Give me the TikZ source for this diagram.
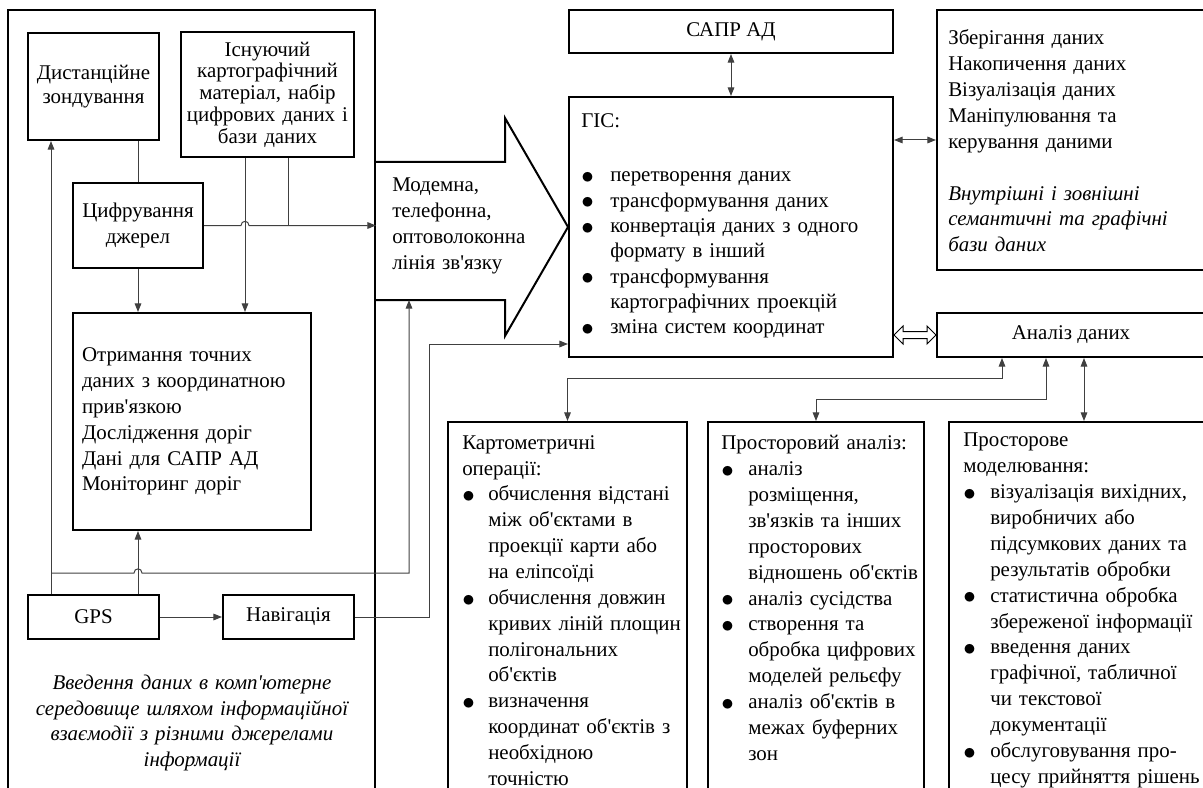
\documentclass[tikz,border=0pt]{standalone}
\usepackage{fontspec}
\setmainfont{Liberation Serif}[Ligatures=TeXOff]
\usetikzlibrary{arrows.meta,calc}
\definecolor{cg}{RGB}{64,64,64}
\newlength\bind
\newlength\boff
\newcommand\bul[1]{\par\noindent\hangindent=\bind\hangafter=1\makebox[\bind][l]{\hspace*{\boff}\raisebox{-1.3pt}{\scalebox{1.3}{$\bullet$}}}#1\par}
\newcommand\fs{\fontsize{15.7}{19.4}\selectfont}
\begin{document}
\begin{tikzpicture}[x=0.75pt,y=-0.75pt,
  box/.style 2 args={draw=black, line width=1.5pt, minimum width=#1*0.75pt, minimum height=#2*0.75pt, inner sep=0pt, font=\fs},
  ctext/.style={align=center, text width=#1*0.75pt},
  ltext/.style={align=left, text width=#1*0.75pt, inner sep=0pt, anchor=west, font=\fs},
  conn/.style={draw=cg, line width=0.75pt},
  mytip/.tip={Triangle[length=6.5pt,width=5pt]},
  arr/.style={conn, -mytip},
  darr/.style={conn, mytip-mytip},
]
\useasboundingbox (0,0) rectangle (1203,788);
\clip (0,0) rectangle (1203,788);

% boxes
\node[box={367}{800}] (panel) at (191.5,410) {};
\node[box={131}{107}, ctext=125, font=\fontsize{15.7}{18.3}\selectfont] (dist) at (93.5,86.5) {Дистанційне\\зондування};
\node[box={173}{125}, ctext=170, font=\fontsize{15.7}{16.3}\selectfont] (isn) at (267.5,94.5) {Існуючий\\картографічний\\матеріал, набір\\цифрових даних і\\бази даних};
\node[box={130}{85}, ctext=126] (cifr) at (138,225.5) {Цифрування\\джерел};
\node[box={238}{217}, align=left, text width=165pt, inner xsep=6.75pt] (otr) at (192,421.5) {Отримання точних\\даних з координатною\\прив'язкою\\Дослідження доріг\\Дані для САПР АД\\Моніторинг доріг};
\node[box={131}{44}] (gps) at (93.5,617) {GPS};
\node[box={131}{44}] (nav) at (288.5,617) {Навігація};

\node[box={324}{43}] (sapr) at (731,31.5) {САПР АД};
\node[box={324}{260}] (gis) at (731,227) {};
\node[box={268}{260}] (zber) at (1071,140) {};
\node[box={268}{44}] (anal) at (1071,335) {Аналіз даних};
\node[box={239}{390}] (kart) at (567.5,617) {};
\node[box={216}{390}] (prost) at (816,617) {};
\node[box={270}{390}] (model) at (1084,617) {};

% big arrow
\coordinate (a1) at (375,162);
\coordinate (a2) at (505,162);
\coordinate (a3) at (505,118);
\coordinate (a5) at (505,336);
\coordinate (a6) at (505,300);
\coordinate (a7) at (375,300);
\draw[line width=1.5pt] (a1) -- (a2) -- (a3) -- (gis.west) -- (a5) -- (a6) -- (a7);

% texts
\node[ltext=300] (modemt) at (392,226) {Модемна,\\телефонна,\\оптоволоконна\\лінія зв'язку};
\node[ltext=300, font=\fontsize{15.7}{19}\selectfont] (gist) at (581,226) {\setlength\bind{21.75pt}\setlength\boff{0pt}ГІС:\par\vspace{21.5pt}\bul{перетворення даних}\bul{трансформування даних}\bul{конвертація даних з одного\newline формату в інший}\bul{трансформування\newline картографічних проекцій}\bul{зміна систем координат}};
\node[ltext=300] (zbert) at (948,141) {Зберігання даних\\Накопичення даних\\Візуалізація даних\\Маніпулювання та\\керування даними\\[19.4pt]\textit{Внутрішні і зовнішні}\\\textit{семантичні та графічні}\\\textit{бази даних}};
\node[align=center, text width=270pt, inner sep=0pt, font=\fs\itshape] (capt) at (192,723) {Введення даних в комп'ютерне\\середовище шляхом інформаційної\\взаємодії з різними джерелами\\інформації};
\node[ltext=300] (kartt) at (462,610.5) {\setlength\bind{19.5pt}\setlength\boff{0pt}Картометричні\\операції:\bul{обчислення відстані\newline між об'єктами в\newline проекції карти або\newline на еліпсоїді}\bul{обчислення довжин\newline кривих ліній площин\newline полігональних\newline об'єктів}\bul{визначення\newline координат об'єктів з\newline необхідною\newline точністю}};
\node[ltext=300] (prostt) at (721,598) {\setlength\bind{20.25pt}\setlength\boff{0pt}Просторовий аналіз:\bul{аналіз\newline розміщення,\newline зв'язків та інших\newline просторових\newline відношень об'єктів}\bul{аналіз сусідства}\bul{створення та\newline обробка цифрових\newline моделей рельєфу}\bul{аналіз об'єктів в\newline межах буферних\newline зон}};
\node[ltext=300] (modelt) at (963,610.5) {\setlength\bind{20.25pt}\setlength\boff{0pt}Просторове\\моделювання:\bul{візуалізація вихідних,\newline виробничих або\newline підсумкових даних та\newline результатів обробки}\bul{статистична обробка\newline збереженої інформації}\bul{введення даних\newline графічної, табличної\newline чи текстової\newline документації}\bul{обслуговування про-\newline цесу прийняття рішень}};

% coordinates
\coordinate (xA) at (51,0);
\coordinate (xB) at (138,0);
\coordinate (xD) at (245,0);
\coordinate (xE) at (288,0);
\coordinate (j1) at (51,573);
\coordinate (h1l) at (134,573);
\coordinate (h1r) at (142,573);
\coordinate (j2) at (409,573);
\coordinate (ab) at (409,300);
\coordinate (h2l) at (241,225.5);
\coordinate (h2r) at (249,225.5);
\coordinate (c1) at (429,344);
\coordinate (c2) at (1002,378);
\coordinate (c3) at (1046,399);

% connectors left
\draw[arr] (xA |- gps.north) -- (xA |- dist.south);
\draw[arr] (j1) -- (h1l) .. controls +(0,-5.5) and +(0,-5.5) .. (h1r) -- (j2) -- (ab);
\draw[arr] (xB |- gps.north) -- (xB |- otr.south);
\draw[arr] (gps) -- (nav);
\draw[arr] (nav.east) -| (c1) -- (c1 -| gis.west);
\draw[conn] (cifr.north) -- (cifr.north |- dist.south);
\draw[arr] (cifr.south) -- (cifr.south |- otr.north);
\draw[arr] (xD |- isn.south) -- (xD |- otr.north);
\draw[conn] (xE |- isn.south) -- (xE |- cifr.east);
\draw[arr] (cifr.east) -- (h2l) .. controls +(0,-5.5) and +(0,-5.5) .. (h2r) -- (cifr.east -| panel.east);

% connectors right
\draw[darr] (sapr) -- (gis);
\draw[darr] (zber.west -| gis.east) -- (zber.west);
\draw[line width=0.75pt] (anal.west -| gis.east) -- ++(9,-9) -- ++(0,5.5) -- ++(24,0) -- ++(0,-5.5) -- (anal.west) -- ++(-9,9) -- ++(0,-5.5) -- ++(-24,0) -- ++(0,5.5) -- cycle;
\draw[darr] (kart.north) |- (c2) -- (c2 |- anal.south);
\draw[darr] (prost.north) |- (c3) -- (c3 |- anal.south);
\draw[darr] (model.north |- anal.south) -- (model.north);
\end{tikzpicture}
\end{document}
